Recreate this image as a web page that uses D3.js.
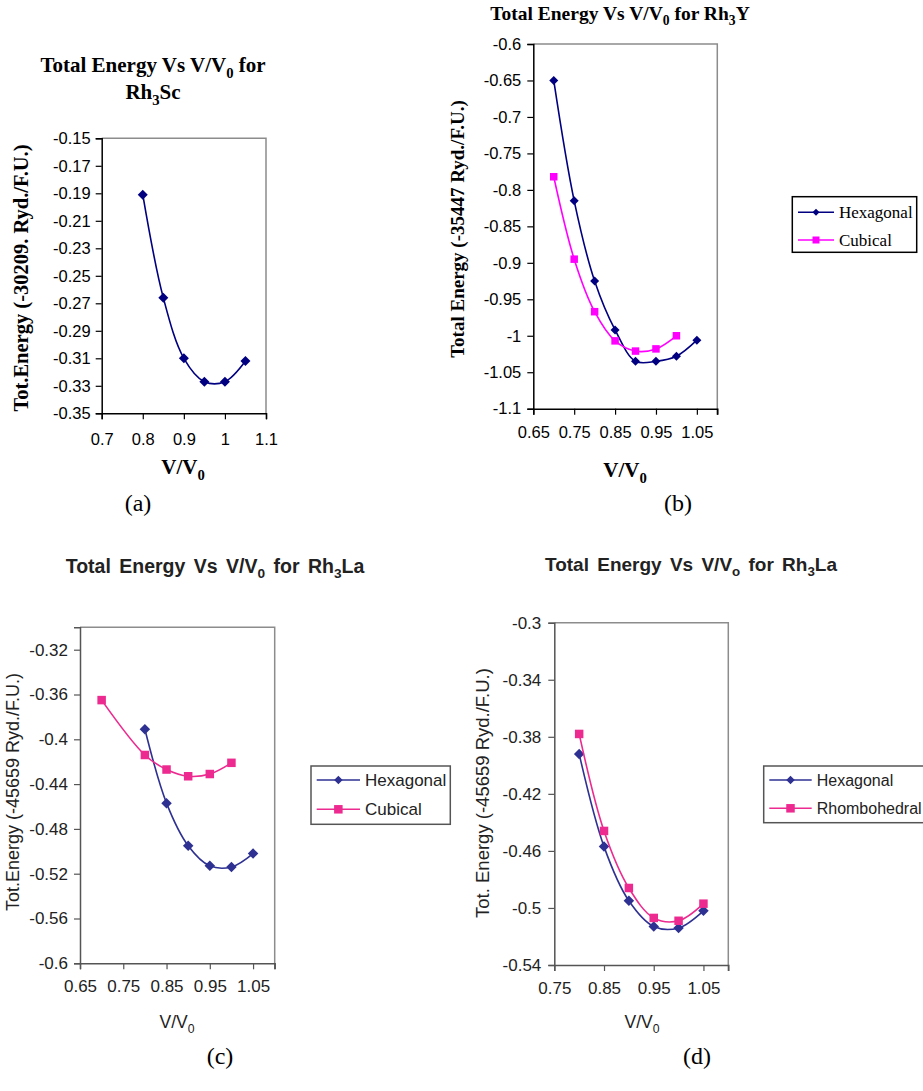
<!DOCTYPE html>
<html>
<head>
<meta charset="utf-8">
<script src="https://cdn.jsdelivr.net/npm/d3@7"></script>
<style>
  body { margin: 0; background: #fff; }
  svg { display: block; }
</style>
</head>
<body>
<div id="graf"></div>
<script>
// -- Datos
// (a) Rh3Sc
vvA = [0.8, 0.85, 0.9, 0.95, 1.0, 1.05]
eA_hex = [-0.191, -0.266, -0.310, -0.327, -0.327, -0.312]
ticksXA = [0.7, 0.8, 0.9, 1, 1.1]
ticksYA = [-0.15, -0.17, -0.19, -0.21, -0.23, -0.25, -0.27, -0.29, -0.31, -0.33, -0.35]

// (b) Rh3Y
vvB_hex = [0.7, 0.75, 0.8, 0.85, 0.9, 0.95, 1.0, 1.05]
eB_hex = [-0.650, -0.815, -0.925, -0.992, -1.035, -1.035, -1.028, -1.006]
vvB_cub = [0.7, 0.75, 0.8, 0.85, 0.9, 0.95, 1.0]
eB_cub = [-0.782, -0.895, -0.967, -1.007, -1.021, -1.018, -1.000]
ticksXB = [0.65, 0.75, 0.85, 0.95, 1.05]
ticksYB = [-0.6, -0.65, -0.7, -0.75, -0.8, -0.85, -0.9, -0.95, -1, -1.05, -1.1]

// (c) Rh3La hexagonal / cubical
vvC_hex = [0.8, 0.85, 0.9, 0.95, 1.0, 1.05]
eC_hex = [-0.391, -0.457, -0.495, -0.513, -0.514, -0.502]
vvC_cub = [0.7, 0.8, 0.85, 0.9, 0.95, 1.0]
eC_cub = [-0.365, -0.414, -0.427, -0.433, -0.431, -0.421]
ticksXC = [0.65, 0.75, 0.85, 0.95, 1.05]
ticksYC = [-0.32, -0.36, -0.4, -0.44, -0.48, -0.52, -0.56, -0.6]

// (d) Rh3La hexagonal / rhombohedral
vvD = [0.8, 0.85, 0.9, 0.95, 1.0, 1.05]
eD_hex = [-0.392, -0.457, -0.495, -0.513, -0.514, -0.502]
eD_rho = [-0.378, -0.446, -0.486, -0.507, -0.509, -0.497]
ticksXD = [0.75, 0.85, 0.95, 1.05]
ticksYD = [-0.3, -0.34, -0.38, -0.42, -0.46, -0.5, -0.54]

// -- Lienzo
svg = d3.select('#graf').append('svg')
        .attr('width', 923)
        .attr('height', 1091)

serif = "'Liberation Serif', 'Times New Roman', serif"
sans = "'Liberation Sans', Arial, sans-serif"

// -- Texto con subíndices: parts = [[texto, esSub], ...]
function rich(x, y, parts, o) {
    t = svg.append('text')
            .attr('x', x).attr('y', y)
            .attr('text-anchor', o.anchor || 'middle')
            .attr('font-family', o.font)
            .attr('font-size', o.size + 'px')
            .attr('font-weight', o.weight || 'normal')
            .attr('fill', o.fill || '#000')
    if (o.rotate) t.attr('transform', `rotate(-90, ${x}, ${y})`)
    if (o.ws) t.attr('word-spacing', o.ws)
    off = o.size * 0.28
    down = false
    parts.forEach(p => {
        s = t.append('tspan').text(p[0])
        if (p[1] && !down) { s.attr('dy', off).attr('font-size', (o.size * 0.7) + 'px'); down = true }
        else if (p[1]) { s.attr('font-size', (o.size * 0.7) + 'px') }
        else if (down) { s.attr('dy', -off); down = false }
    })
    return t
}

function marker(g, kind, x, y, sz, color) {
    if (kind == 'diamond') {
        g.append('path')
            .attr('d', d3.symbol(d3.symbolSquare, sz * sz / 2)())
            .attr('transform', `translate(${x},${y}) rotate(45)`)
            .attr('fill', color)
    } else {
        g.append('path')
            .attr('d', d3.symbol(d3.symbolSquare, sz * sz)())
            .attr('transform', `translate(${x},${y})`)
            .attr('fill', color)
    }
}

function panel(c) {
    x = d3.scaleLinear().domain(c.xDom).range([c.l, c.r])
    y = d3.scaleLinear().domain(c.yDom).range([c.b, c.t])
    g = svg.append('g')

    // marco (arriba y derecha en gris)
    g.append('path')
        .attr('d', `M${c.l},${c.t}H${c.r}V${c.b}`)
        .attr('fill', 'none')
        .attr('stroke', c.border)
        .attr('stroke-width', 1.5)

    fmt = d => String(+d.toFixed(3))
    ax = g.append('g')
            .attr('transform', `translate(${c.l},0)`)
            .call(d3.axisLeft(y).tickValues(c.yTicks).tickSize(6).tickPadding(c.padY).tickFormat(fmt))
    bx = g.append('g')
            .attr('transform', `translate(0,${c.b})`)
            .call(d3.axisBottom(x).tickValues(c.xTicks).tickSize(6).tickPadding(c.padX).tickFormat(fmt))
    ;[ax, bx].forEach(a => {
        a.select('.domain').attr('stroke', c.axis).attr('stroke-width', 1.5)
        a.selectAll('.tick line').attr('stroke', c.axis).attr('stroke-width', 1.2)
        a.selectAll('text')
            .attr('font-family', sans)
            .attr('font-size', c.tickSize + 'px')
            .attr('fill', c.text)
    })
    // extremo derecho del eje x sin etiqueta
    if (c.endTick) {
        g.append('line')
            .attr('x1', c.r).attr('x2', c.r)
            .attr('y1', c.b).attr('y2', c.b + 6)
            .attr('stroke', c.axis).attr('stroke-width', 1.2)
    }

    line = d3.line()
                .x(d => x(d[0]))
                .y(d => y(d[1]))
                .curve(d3.curveCatmullRom.alpha(0.5))
    c.series.forEach(s => {
        pts = d3.zip(s.x, s.y)
        g.append('path')
            .attr('d', line(pts))
            .attr('fill', 'none')
            .attr('stroke', s.color)
            .attr('stroke-width', 1.6)
        pts.forEach(p => marker(g, s.marker, x(p[0]), y(p[1]), s.msize, s.color))
    })

    // leyenda
    if (c.legend) {
        L = c.legend
        g.append('rect')
            .attr('x', L.x).attr('y', L.y)
            .attr('width', L.w).attr('height', L.h)
            .attr('fill', '#fff')
            .attr('stroke', L.stroke)
            .attr('stroke-width', 1.5)
        c.series.forEach((s, i) => {
            ly = L.rows[i]
            g.append('line')
                .attr('x1', L.lx1).attr('x2', L.lx2)
                .attr('y1', ly).attr('y2', ly)
                .attr('stroke', s.color).attr('stroke-width', 1.6)
            marker(g, s.marker, (L.lx1 + L.lx2) / 2, ly, L.msize, s.color)
            g.append('text')
                .attr('x', L.tx).attr('y', ly)
                .attr('dy', '0.35em')
                .attr('font-family', L.font)
                .attr('font-size', L.size + 'px')
                .attr('fill', c.text)
                .text(s.name)
        })
    }
}

navy = '#000080'
magenta = '#ff00ff'
blue = '#2e3192'
pink = '#ec2a8f'

// -- (a)
panel({
    l: 101.7, r: 266, t: 138.3, b: 413.3,
    xDom: [0.7, 1.1], yDom: [-0.35, -0.15],
    xTicks: ticksXA, yTicks: ticksYA, padX: 14, padY: 5,
    axis: '#000', border: '#8c8c8c', text: '#000', tickSize: 16.5,
    series: [{ x: vvA, y: eA_hex, color: navy, marker: 'diamond', msize: 10, name: 'Hexagonal' }]
})
rich(153, 72, [['Total Energy Vs V/V'], ['0', 1], [' for']], { font: serif, size: 21, weight: 'bold' })
rich(153, 99, [['Rh'], ['3', 1], ['Sc']], { font: serif, size: 21, weight: 'bold' })
rich(28, 278, [['Tot.Energy (-30209. Ryd./F.U.)']], { font: serif, size: 20.5, weight: 'bold', rotate: true })
rich(183, 474, [['V/V'], ['0', 1]], { font: serif, size: 21, weight: 'bold' })
rich(138, 511, [['(a)']], { font: serif, size: 24 })

// -- (b)
panel({
    l: 533.3, r: 717.3, t: 44, b: 408.7,
    xDom: [0.65, 1.1], yDom: [-1.1, -0.6],
    xTicks: ticksXB, yTicks: ticksYB, padX: 12, padY: 6,
    axis: '#000', border: '#8c8c8c', text: '#000', tickSize: 16.5, endTick: true,
    series: [
        { x: vvB_hex, y: eB_hex, color: navy, marker: 'diamond', msize: 9, name: 'Hexagonal' },
        { x: vvB_cub, y: eB_cub, color: magenta, marker: 'square', msize: 7.5, name: 'Cubical' }
    ],
    legend: { x: 792.3, y: 196.7, w: 124.4, h: 55.6, stroke: '#000', rows: [212.3, 240],
              lx1: 798, lx2: 834, tx: 839, msize: 7, font: serif, size: 17 }
})
rich(620, 20, [['Total Energy Vs V/V'], ['0', 1], [' for Rh'], ['3', 1], ['Y']], { font: serif, size: 19.5, weight: 'bold' })
rich(464, 229, [['Total Energy (-35447 Ryd./F.U.)']], { font: serif, size: 19, weight: 'bold', rotate: true })
rich(625, 477, [['V/V'], ['0', 1]], { font: serif, size: 21, weight: 'bold' })
rich(678, 511, [['(b)']], { font: serif, size: 24 })

// -- (c)
panel({
    l: 80, r: 274.7, t: 627.3, b: 963.3,
    xDom: [0.65, 1.1], yDom: [-0.6, -0.3],
    xTicks: ticksXC, yTicks: ticksYC, padX: 11, padY: 6,
    axis: '#555', border: '#8c8c8c', text: '#222', tickSize: 17, endTick: true,
    series: [
        { x: vvC_hex, y: eC_hex, color: blue, marker: 'diamond', msize: 10.5, name: 'Hexagonal' },
        { x: vvC_cub, y: eC_cub, color: pink, marker: 'square', msize: 8.5, name: 'Cubical' }
    ],
    legend: { x: 311, y: 766, w: 139.3, h: 58.3, stroke: '#555', rows: [780, 809.3],
              lx1: 316.7, lx2: 360, tx: 365, msize: 8.5, font: sans, size: 17 }
})
rich(215, 573, [['Total Energy Vs V/V'], ['0', 1], [' for Rh'], ['3', 1], ['La']], { font: sans, size: 19.5, weight: 'bold', fill: '#222', ws: 3 })
rich(19, 792, [['Tot.Energy (-45659 Ryd./F.U.)']], { font: sans, size: 18, fill: '#222', rotate: true })
rich(177, 1028, [['V/V'], ['0', 1]], { font: sans, size: 17.5, fill: '#222' })
rich(220, 1064, [['(c)']], { font: serif, size: 24 })

// -- (d)
panel({
    l: 554.3, r: 728.3, t: 622.7, b: 965,
    xDom: [0.75, 1.1], yDom: [-0.54, -0.3],
    xTicks: ticksXD, yTicks: ticksYD, padX: 11, padY: 7,
    axis: '#555', border: '#8c8c8c', text: '#222', tickSize: 17, endTick: true,
    series: [
        { x: vvD, y: eD_hex, color: blue, marker: 'diamond', msize: 10.5, name: 'Hexagonal' },
        { x: vvD, y: eD_rho, color: pink, marker: 'square', msize: 8.5, name: 'Rhombohedral' }
    ],
    legend: { x: 763.7, y: 766, w: 170, h: 56.7, stroke: '#555', rows: [780, 808.3],
              lx1: 769.3, lx2: 811.7, tx: 816.7, msize: 8.5, font: sans, size: 16 }
})
rich(691, 571, [['Total Energy Vs V/V'], ['o', 1], [' for Rh'], ['3', 1], ['La']], { font: sans, size: 19, weight: 'bold', fill: '#222', ws: 3 })
rich(489, 793, [['Tot. Energy (-45659 Ryd./F.U.)']], { font: sans, size: 18.5, fill: '#222', rotate: true })
rich(642, 1028, [['V/V'], ['0', 1]], { font: sans, size: 17.5, fill: '#222' })
rich(697, 1064, [['(d)']], { font: serif, size: 24 })
</script>
</body>
</html>
